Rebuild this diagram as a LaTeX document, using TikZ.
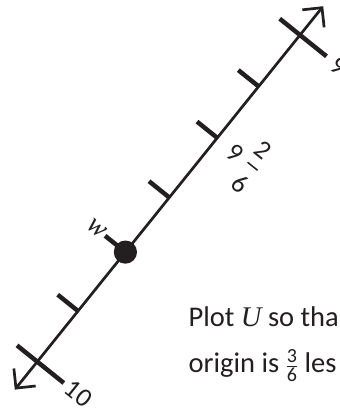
\documentclass[tikz,border=0pt]{standalone}
\usepackage{fontspec}
\usepackage{amsmath}
\setmainfont{Carlito}
\newfontfamily\seriffam{Liberation Serif}
\usetikzlibrary{arrows.meta}
\definecolor{ink}{RGB}{35,31,32}
\newcommand{\fracdigit}[1]{\text{\fontsize{20}{20}\selectfont #1}}
\begin{document}
\begin{tikzpicture}[x=1pt,y=-1pt,
  axis/.style={line width=2.7pt, draw=ink, {Straight Barb[length=14pt,width=28pt]}-{Straight Barb[length=14pt,width=28pt]}},
  tickmark/.style={line width=4.5pt, draw=ink},
  lab/.style={font=\fontsize{26.5}{26.5}\selectfont, rotate=-38.8, inner sep=0pt, text=ink},
  body/.style={font=\fontsize{28.5}{28.5}\selectfont, inner sep=0pt, anchor=base west, text=ink}]
\path[use as bounding box, clip] (0,0) rectangle (340,413);
\coordinate (Abot) at (14.8,389.6);
\coordinate (Atop) at (323.2,6.2);
\coordinate (C9) at (300,35);
\coordinate (C10) at (37.3,361.7);
\coordinate (T1) at (258.6,86.4);
\coordinate (T2) at (217.3,137.9);
\coordinate (T3) at (169.3,197.5);
\coordinate (T4) at (125.4,252.1);
\coordinate (T5) at (78,311);
\draw[axis] (Abot) -- (Atop);
\draw[tickmark] (C9) ++(-20.3,-16.3) -- ++(46.8,37.6);
\draw[tickmark] (C10) ++(-20.3,-16.3) -- ++(46.8,37.6);
\foreach \t in {T1,T2,T3,T4,T5} \draw[tickmark] (\t) -- ++(-20.3,-16.3);
\fill[ink] (T4) circle (11.6);
\node[lab, anchor=west] (l9) at (333.5,62) {9};
\node[lab, anchor=west] (l10) at (68,385) {10};
\node[lab] (m9) at (235.6,152.6) {9};
\node[lab] (m2) at (263.5,150) {2};
\node[lab] (m6) at (240.1,183.5) {6};
\draw[line width=1.5pt, draw=ink] (247.6,162.3) -- (257.6,170.3);
\node[lab, font=\fontsize{28}{28}\seriffam\itshape] (w) at (96.3,228.7) {w};
\node[body] (line1) at (188.5,326.7) {Plot {\seriffam\itshape U} so tha};
\node[body] (line2) at (188.5,372.7) {origin is $\frac{\fracdigit{3}}{\fracdigit{6}}$ les};
\end{tikzpicture}
\end{document}
